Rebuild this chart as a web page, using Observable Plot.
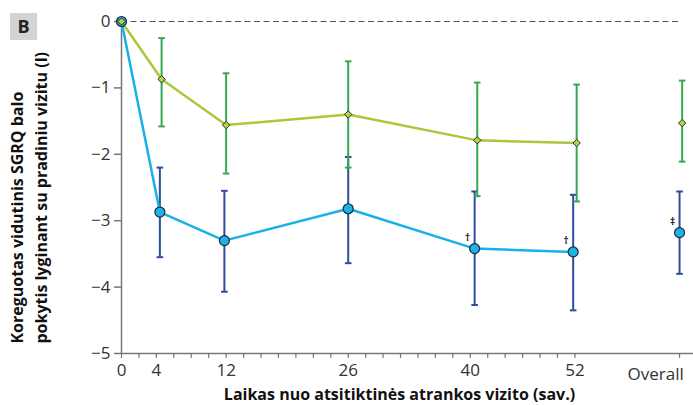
<!DOCTYPE html>
<html>
<head>
<meta charset="utf-8">
<script src="https://cdn.jsdelivr.net/npm/d3@7"></script>
<script src="https://cdn.jsdelivr.net/npm/@observablehq/plot@0.6"></script>
<style>
  body { margin: 0; background: #fff; }
  #wrap { position: relative; width: 693px; height: 405px; font-family: "Open Sans", sans-serif; }
  #panel { position: absolute; left: 10px; top: 13px; width: 27px; height: 27px; background: #d3d3d3;
           font: bold 18px "Open Sans", sans-serif; color: #222; text-align: center; line-height: 27px; }
</style>
</head>
<body>
<div id="wrap"><div id="panel">B</div></div>
<script>
// ---- data ----
const panelLabel = "B";
const yTitle = "Koreguotas vidutinis SGRQ balo\npokytis lyginant su pradiniu vizitu (l)";
const xTitle = "Laikas nuo atsitiktinės atrankos vizito (sav.)";
const yTicks = [0, -1, -2, -3, -4, -5];
const xTickWeeks = [0, 4, 12, 26, 40, 52];
const minorTickWeeks = d3.range(0, 53, 2);
const overallLabel = "Overall";
const overallPos = 64.0;

// blue series (circles)
const blueWeek = [0, 4.4, 11.8, 26.0, 40.5, 51.8, 64.0];
const blueMean = [0, -2.87, -3.30, -2.82, -3.42, -3.47, -3.18];
const blueLow  = [0, -3.55, -4.07, -3.64, -4.27, -4.35, -3.80];
const blueHigh = [0, -2.20, -2.55, -2.04, -2.56, -2.61, -2.56];
const blueMarks = ["", "", "", "", "†", "†", "‡"];

// green series (diamonds)
const greenWeek = [0, 4.6, 12.0, 26.0, 40.8, 52.2, 64.3];
const greenMean = [0, -0.87, -1.56, -1.40, -1.79, -1.83, -1.53];
const greenLow  = [0, -1.58, -2.29, -2.20, -2.63, -2.71, -2.11];
const greenHigh = [0, -0.25, -0.78, -0.60, -0.92, -0.95, -0.89];

const blue = blueWeek.map((w, i) => ({w, m: blueMean[i], lo: blueLow[i], hi: blueHigh[i], mark: blueMarks[i], overall: i === blueWeek.length - 1}));
const green = greenWeek.map((w, i) => ({w, m: greenMean[i], lo: greenLow[i], hi: greenHigh[i], overall: i === greenWeek.length - 1}));
const blueBars = blue.filter(d => d.w > 0);
const greenBars = green.filter(d => d.w > 0);

// horizontal cap symbol for error bars
const cap = { draw(ctx, size) { const r = Math.sqrt(size / Math.PI); ctx.moveTo(-r, 0); ctx.lineTo(r, 0); } };

const cBlueLine = "#1ab1e6", cBlueBar = "#2d4d9d", cGreenLine = "#a9c83c", cGreenBar = "#37a852";

const chart = Plot.plot({
  width: 693, height: 405,
  marginLeft: 121, marginRight: 0, marginTop: 21, marginBottom: 52,
  style: { fontFamily: "Open Sans, sans-serif", background: "transparent" },
  x: { domain: [0, 65.6], axis: null },
  y: { domain: [-5, 0], axis: null },
  marks: [
    Plot.ruleY([0], { x1: 0, x2: 64.3, stroke: "#555", strokeWidth: 1, strokeDasharray: "6,3.5" }),
    Plot.ruleY([-5], { stroke: "#777", strokeWidth: 1.5 }),
    Plot.ruleX([0], { y1: -5, y2: 0, stroke: "#777", strokeWidth: 1.5 }),
    Plot.axisY({ ticks: yTicks, tickFormat: d3.format("d"), tickSize: 7, tickPadding: 4, fontSize: 17, stroke: "#777", strokeWidth: 1.5, color: "#333", label: null }),
    Plot.axisX({ ticks: [...minorTickWeeks, overallPos], tickSize: 5, tickFormat: () => "", stroke: "#777", strokeWidth: 1.2, label: null }),
    Plot.axisX({ ticks: xTickWeeks, tickSize: 0, tickPadding: 10, fontSize: 17, color: "#333", label: null }),
    Plot.text([overallLabel], { x: overallPos, y: -5, dy: 21, dx: -52, textAnchor: "start", fontSize: 17, fill: "#333", text: d => d }),
    Plot.text([xTitle], { frameAnchor: "bottom", dx: -8, dy: 46, fontWeight: "bold", fontSize: 16, fill: "#111", text: d => d }),
    Plot.text([yTitle], { frameAnchor: "left", dx: -94, dy: 156, rotate: -90, textAnchor: "start", lineHeight: 1.5, fontWeight: "bold", fontSize: 16, fill: "#111", text: d => d }),
    // error bars
    Plot.ruleX(blueBars, { x: "w", y1: "lo", y2: "hi", stroke: cBlueBar, strokeWidth: 2 }),
    Plot.dot(blueBars, { x: "w", y: "lo", symbol: cap, r: 3.3, stroke: cBlueBar, strokeWidth: 2 }),
    Plot.dot(blueBars, { x: "w", y: "hi", symbol: cap, r: 3.3, stroke: cBlueBar, strokeWidth: 2 }),
    Plot.ruleX(greenBars, { x: "w", y1: "lo", y2: "hi", stroke: cGreenBar, strokeWidth: 2 }),
    Plot.dot(greenBars, { x: "w", y: "lo", symbol: cap, r: 3.3, stroke: cGreenBar, strokeWidth: 2 }),
    Plot.dot(greenBars, { x: "w", y: "hi", symbol: cap, r: 3.3, stroke: cGreenBar, strokeWidth: 2 }),
    // lines
    Plot.line(blue.filter(d => !d.overall), { x: "w", y: "m", stroke: cBlueLine, strokeWidth: 2.5 }),
    Plot.line(green.filter(d => !d.overall), { x: "w", y: "m", stroke: cGreenLine, strokeWidth: 2.5 }),
    // points
    Plot.dot(blue, { x: "w", y: "m", r: 5, fill: "#1fb2e4", stroke: "#1c2a38", strokeWidth: 1.2 }),
    Plot.dot(green, { x: "w", y: "m", symbol: "diamond2", r: 3.3, fill: "#b9d04c", stroke: "#2e2e2e", strokeWidth: 1 }),
    Plot.text(blue.filter(d => d.mark), { x: "w", y: "m", text: "mark", dx: -7, dy: -11, fontSize: 10, fontWeight: "bold", fill: "#222" })
  ]
});
document.getElementById("wrap").prepend(chart);
chart.style.position = "absolute"; chart.style.left = "0"; chart.style.top = "0";
document.getElementById("panel").textContent = panelLabel;
</script>
</body>
</html>
